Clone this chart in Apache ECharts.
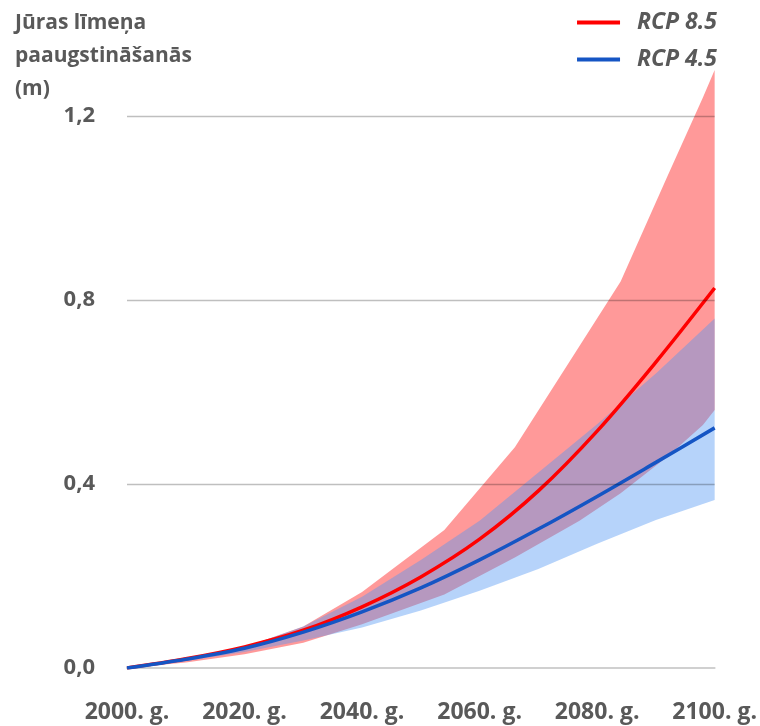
<!DOCTYPE html>
<html><head><meta charset="utf-8">
<script src="https://cdn.jsdelivr.net/npm/echarts@6/dist/echarts.min.js"></script>
<style>html,body{margin:0;padding:0;background:#fff}#c{width:760px;height:726px}</style>
</head><body><div id="c"></div>
<script>
// Central projections (m)
const lineYears = [2000, 2010, 2020, 2030, 2040, 2050, 2060, 2070, 2080, 2090, 2100];
const rcp85 = [0, 0.02, 0.046, 0.082, 0.133, 0.198, 0.28, 0.385, 0.515, 0.665, 0.826];
const rcp45 = [0, 0.019, 0.043, 0.078, 0.122, 0.174, 0.235, 0.302, 0.373, 0.447, 0.522];

// RCP 8.5 likely range
const band85Years = [2000, 2010, 2020, 2030, 2040, 2054, 2066, 2077, 2084, 2092, 2098, 2100];
const band85Low  = [0, 0.012, 0.03, 0.055, 0.095, 0.16, 0.24, 0.32, 0.38, 0.46, 0.528, 0.561];
const band85High = [0, 0.02, 0.045, 0.09, 0.165, 0.30, 0.48, 0.70, 0.84, 1.07, 1.24, 1.30];

// RCP 4.5 likely range
const band45Years = [2000, 2010, 2020, 2030, 2040, 2050, 2060, 2070, 2080, 2090, 2100];
const band45Low  = [0, 0.015, 0.035, 0.06, 0.088, 0.125, 0.168, 0.215, 0.27, 0.322, 0.365];
const band45High = [0, 0.02, 0.045, 0.09, 0.155, 0.235, 0.32, 0.425, 0.53, 0.64, 0.76];

const xTickValues = [2000, 2020, 2040, 2060, 2080, 2100];
const xTickLabels = ['2000. g.', '2020. g.', '2040. g.', '2060. g.', '2080. g.', '2100. g.'];
const yTickValues = [0, 0.4, 0.8, 1.2];
const yTickLabels = ['0,0', '0,4', '0,8', '1,2'];

const titleText = 'Jūras līmeņa\npaaugstināšanās\n(m)';
const seriesNames = ['RCP 8.5', 'RCP 4.5'];

const FONT = 'Open Sans';
const GRAY = '#595959';

function pairs(xs, ys) { return xs.map((x, i) => [x, ys[i]]); }
function bandRows(xs, lo, hi) { return xs.map((x, i) => [x, lo[i], hi[i]]); }

function bandSeries(name, xs, lo, hi, color, z) {
  return {
    name: name, type: 'custom', silent: true, z: z, clip: true,
    data: bandRows(xs, lo, hi),
    encode: {x: 0, y: [1, 2]},
    renderItem: function (params, api) {
      if (params.dataIndex !== 0) return null;
      const pts = [];
      for (let i = 0; i < xs.length; i++) pts.push(api.coord([xs[i], hi[i]]));
      for (let i = xs.length - 1; i >= 0; i--) pts.push(api.coord([xs[i], lo[i]]));
      return {type: 'polygon', shape: {points: pts}, style: {fill: color}};
    }
  };
}

const chart = echarts.init(document.getElementById('c'), null, {renderer: 'canvas'});
chart.setOption({
  animation: false,
  backgroundColor: '#fff',
  title: {
    text: titleText,
    left: 10, top: 2,
    textStyle: {fontFamily: FONT, fontWeight: 'bold', fontSize: 21, color: GRAY, lineHeight: 33}
  },
  legend: {
    data: seriesNames,
    orient: 'vertical',
    right: 38, top: 6,
    itemWidth: 43, itemHeight: 4, itemGap: 14,
    icon: 'rect',
    textStyle: {fontFamily: FONT, fontWeight: 'bold', fontStyle: 'italic', fontSize: 23, color: GRAY, padding: [0, 0, 0, 12]}
  },
  grid: {left: 127, right: 40, top: 70, bottom: 58},
  xAxis: {
    type: 'value', min: 2000, max: 2100, interval: 20,
    axisLine: {show: true, lineStyle: {color: '#D0D0D0', width: 2}},
    axisTick: {show: false},
    splitLine: {show: false},
    axisLabel: {
      margin: 33, fontFamily: FONT, fontWeight: 'bold', fontSize: 23, color: GRAY,
      formatter: v => { const i = xTickValues.indexOf(v); return i >= 0 ? xTickLabels[i] : ''; }
    }
  },
  yAxis: {
    type: 'value', min: 0, max: 1.3, interval: 0.4, z: 10,
    axisLine: {show: false}, axisTick: {show: false},
    splitLine: {show: true, showMinLine: false, showMaxLine: false, lineStyle: {color: 'rgba(0,0,0,0.25)', width: 1.3}},
    axisLabel: {
      margin: 32, fontFamily: FONT, fontWeight: 'bold', fontSize: 22, color: GRAY, showMaxLabel: false,
      formatter: v => { const i = yTickValues.findIndex(t => Math.abs(t - v) < 1e-9); return i >= 0 ? yTickLabels[i] : ''; }
    }
  },
  series: [
    bandSeries('RCP 8.5 diapazons', band85Years, band85Low, band85High, 'rgba(255,0,0,0.4)', 1),
    bandSeries('RCP 4.5 diapazons', band45Years, band45Low, band45High, 'rgba(82,150,243,0.42)', 2),
    {name: seriesNames[0], type: 'line', data: pairs(lineYears, rcp85), smooth: 0.35, symbol: 'none',
     itemStyle: {color: '#FF0000'}, lineStyle: {color: '#FF0000', width: 3.5}, z: 5},
    {name: seriesNames[1], type: 'line', data: pairs(lineYears, rcp45), smooth: 0.35, symbol: 'none',
     itemStyle: {color: '#1555C4'}, lineStyle: {color: '#1555C4', width: 3.5}, z: 6}
  ]
});
</script></body></html>
